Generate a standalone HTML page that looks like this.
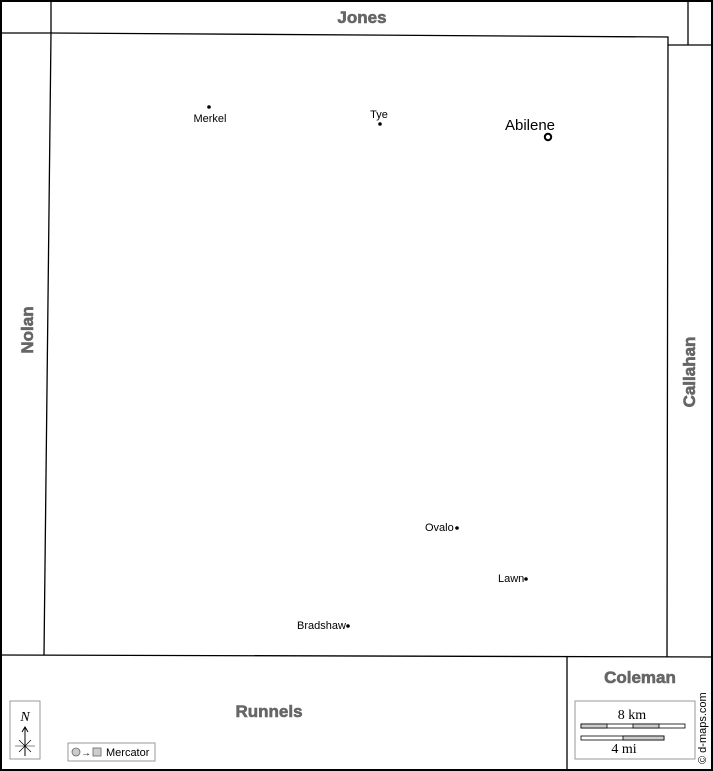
<!DOCTYPE html>
<html><head><meta charset="utf-8"><style>
html,body{margin:0;padding:0;background:#fff}
svg{display:block}
</style></head><body>
<svg width="713" height="771" viewBox="0 0 713 771" xmlns="http://www.w3.org/2000/svg" font-family="Liberation Sans, sans-serif">
<rect x="0" y="0" width="713" height="771" fill="#fff"/>
<g stroke="#000" fill="none" stroke-width="1.3">
<line x1="51" y1="0" x2="51" y2="33"/>
<polyline points="0,33 51,33 668,37 667,657"/>
<line x1="51" y1="33" x2="44" y2="655"/>
<line x1="0" y1="655" x2="713" y2="657"/>
<line x1="688" y1="0" x2="688" y2="45"/>
<line x1="668" y1="45" x2="713" y2="45"/>
<line x1="567" y1="657" x2="567" y2="771"/>
</g>
<rect x="1" y="1" width="711" height="769" fill="none" stroke="#000" stroke-width="2"/>
<g fill="#666" font-weight="bold" font-size="17" stroke="#666" stroke-width="0.6">
<text x="362" y="23" text-anchor="middle">Jones</text>
<text x="269" y="717" text-anchor="middle">Runnels</text>
<text x="640" y="683" text-anchor="middle">Coleman</text>
<text transform="translate(33,330) rotate(-90)" text-anchor="middle">Nolan</text>
<text transform="translate(695,372) rotate(-90)" text-anchor="middle">Callahan</text>
</g>
<g fill="#000" font-size="11">
<circle cx="209" cy="107" r="1.8"/><text x="210" y="122" text-anchor="middle">Merkel</text>
<circle cx="380" cy="124" r="1.8"/><text x="379" y="118" text-anchor="middle">Tye</text>
<text x="530" y="130" text-anchor="middle" font-size="15">Abilene</text>
<circle cx="548" cy="137" r="3.2" fill="none" stroke="#000" stroke-width="2"/>
<circle cx="457" cy="528" r="1.8"/><text x="425" y="531">Ovalo</text>
<circle cx="526" cy="579" r="1.8"/><text x="498" y="582">Lawn</text>
<circle cx="348" cy="626" r="1.8"/><text x="297" y="629">Bradshaw</text>
</g>
<rect x="575" y="701" width="120" height="58" fill="#fff" stroke="#999"/>
<text x="632" y="719" text-anchor="middle" font-family="Liberation Serif, serif" font-size="14">8 km</text>
<rect x="581" y="724" width="104" height="4" fill="#fff" stroke="#000" stroke-width="0.8"/>
<rect x="581" y="724" width="26" height="4" fill="#ccc" stroke="#000" stroke-width="0.8"/>
<rect x="633" y="724" width="26" height="4" fill="#ccc" stroke="#000" stroke-width="0.8"/>
<rect x="581" y="736" width="83" height="4" fill="#fff" stroke="#000" stroke-width="0.8"/>
<rect x="623" y="736" width="41" height="4" fill="#ccc" stroke="#000" stroke-width="0.8"/>
<text x="624" y="753" text-anchor="middle" font-family="Liberation Serif, serif" font-size="14">4 mi</text>
<text transform="translate(706,764) rotate(-90)" font-size="11" fill="#000">© d-maps.com</text>
<rect x="10" y="701" width="30" height="58" fill="#fff" stroke="#999"/>
<text x="25" y="721" text-anchor="middle" font-family="Liberation Serif, serif" font-style="italic" font-size="14">N</text>
<g stroke="#000" stroke-width="1" fill="none">
<line x1="25" y1="728" x2="25" y2="756"/>
<polyline points="22,732 25,727 28,732"/>
<line x1="15" y1="746" x2="35" y2="746" stroke="#888"/>
<line x1="19" y1="740" x2="31" y2="752" stroke-width="0.7"/>
<line x1="31" y1="740" x2="19" y2="752" stroke-width="0.7"/>
</g>
<rect x="68" y="743" width="87" height="18" fill="#fff" stroke="#999"/>
<circle cx="76" cy="752" r="4" fill="#ccc" stroke="#666" stroke-width="0.8"/>
<text x="81" y="756" font-size="10">→</text>
<rect x="93" y="748" width="8" height="8" fill="#ccc" stroke="#666" stroke-width="0.8"/>
<text x="106" y="756" font-size="11">Mercator</text>
</svg>
</body></html>
